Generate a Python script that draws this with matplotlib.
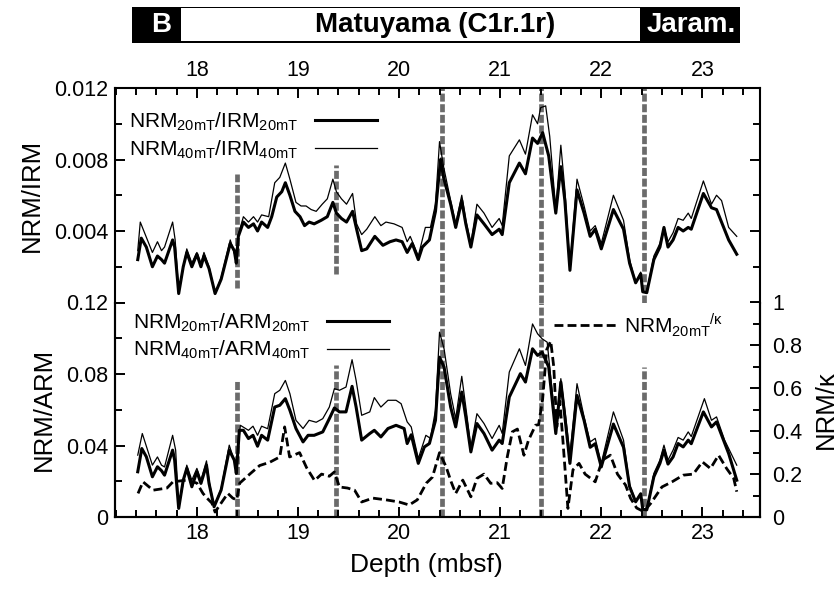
#!/usr/bin/env python3
"""
NRM/IRM, NRM/ARM and NRM/kappa records versus depth (panel B).
"""

import matplotlib
matplotlib.use("Agg")
import matplotlib.pyplot as plt
from matplotlib.patches import Rectangle
from matplotlib.ticker import MultipleLocator, FuncFormatter

plt.rcParams['font.family'] = ['Liberation Sans', 'DejaVu Sans']
plt.rcParams['mathtext.fontset'] = 'custom'
plt.rcParams['mathtext.rm'] = 'Liberation Sans'

# ---- data (depth in mbsf) ----
irm20_depth = [17.415, 17.45, 17.50, 17.56, 17.61, 17.65, 17.68, 17.76, 17.78, 17.82,
               17.865, 17.90, 17.95, 18.00, 18.04, 18.07, 18.12, 18.18, 18.24, 18.33,
               18.37, 18.39, 18.41, 18.46, 18.51, 18.56, 18.60, 18.64, 18.70, 18.74,
               18.79, 18.84, 18.875, 18.92, 18.97, 19.02, 19.065, 19.11, 19.16, 19.23,
               19.29, 19.345, 19.38, 19.43, 19.48, 19.54, 19.58, 19.63, 19.68, 19.76,
               19.84, 19.91, 19.97, 20.03, 20.08, 20.13, 20.19, 20.23, 20.30, 20.36,
               20.41, 20.44, 20.51, 20.56, 20.62, 20.66, 20.71, 20.77, 20.84, 20.92,
               20.99, 21.02, 21.09, 21.19, 21.25, 21.32, 21.37, 21.42, 21.48, 21.55,
               21.60, 21.64, 21.69, 21.76, 21.83, 21.89, 21.94, 22.00, 22.12, 22.22,
               22.28, 22.34, 22.39, 22.41, 22.45, 22.52, 22.58, 22.62, 22.66, 22.71,
               22.76, 22.81, 22.86, 22.89, 23.01, 23.09, 23.14, 23.26, 23.34]
irm20_ratio = [0.0024, 0.0036, 0.0031, 0.0020, 0.0026, 0.0024, 0.0022, 0.0035, 0.0031, 0.0005,
               0.0020, 0.0028, 0.0020, 0.0027, 0.0020, 0.0026, 0.0019, 0.0005, 0.0013, 0.0033,
               0.0029, 0.0022, 0.0037, 0.0045, 0.0042, 0.0044, 0.0040, 0.0045, 0.0042, 0.0048,
               0.0059, 0.0062, 0.0067, 0.0060, 0.0051, 0.0048, 0.0043, 0.0045, 0.0044, 0.0046,
               0.0048, 0.0056, 0.0050, 0.0047, 0.0045, 0.0051, 0.0041, 0.0029, 0.0030, 0.0037,
               0.0032, 0.0034, 0.0035, 0.0034, 0.0028, 0.0033, 0.0024, 0.0031, 0.0035, 0.0051,
               0.0080, 0.0070, 0.0055, 0.0042, 0.0057, 0.0044, 0.0031, 0.0049, 0.0044, 0.0038,
               0.0041, 0.0038, 0.0067, 0.0078, 0.0072, 0.0092, 0.0089, 0.0095, 0.0082, 0.0050,
               0.0076, 0.0057, 0.0018, 0.0063, 0.0050, 0.0037, 0.0041, 0.0030, 0.0052, 0.0041,
               0.0022, 0.0011, 0.0016, 0.0006, 0.00055, 0.0024, 0.0031, 0.0042, 0.0031, 0.0035,
               0.0042, 0.0040, 0.0042, 0.0041, 0.0061, 0.0053, 0.0052, 0.0035, 0.0027]

irm40_depth = [17.415, 17.44, 17.56, 17.61, 17.65, 17.68, 17.76, 17.785, 17.82, 17.90,
               17.95, 18.00, 18.04, 18.07, 18.12, 18.18, 18.24, 18.33, 18.39, 18.41,
               18.46, 18.51, 18.56, 18.60, 18.64, 18.71, 18.77, 18.82, 18.875, 18.92,
               18.98, 19.03, 19.08, 19.13, 19.18, 19.24, 19.29, 19.345, 19.38, 19.43,
               19.48, 19.54, 19.58, 19.63, 19.68, 19.76, 19.82, 19.87, 19.95, 20.03,
               20.08, 20.11, 20.19, 20.26, 20.31, 20.36, 20.40, 20.44, 20.51, 20.56,
               20.62, 20.66, 20.71, 20.77, 20.84, 20.92, 20.99, 21.02, 21.09, 21.19,
               21.25, 21.32, 21.37, 21.40, 21.45, 21.49, 21.55, 21.60, 21.64, 21.69,
               21.76, 21.83, 21.89, 21.94, 22.00, 22.12, 22.22, 22.28, 22.34, 22.39,
               22.41, 22.45, 22.52, 22.58, 22.62, 22.66, 22.71, 22.76, 22.81, 22.86,
               22.89, 23.01, 23.09, 23.14, 23.19, 23.26, 23.34]
irm40_ratio = [0.0029, 0.0045, 0.0028, 0.0034, 0.0029, 0.0031, 0.0045, 0.0035, 0.0006, 0.0030,
               0.0022, 0.0028, 0.0022, 0.0028, 0.0020, 0.0005, 0.0014, 0.0035, 0.0024, 0.0038,
               0.0048, 0.0045, 0.0048, 0.0045, 0.0049, 0.0048, 0.0067, 0.0070, 0.0078, 0.0069,
               0.0056, 0.0054, 0.0054, 0.0052, 0.0051, 0.0055, 0.0058, 0.0069, 0.0062, 0.0058,
               0.0055, 0.0061, 0.0044, 0.0038, 0.0041, 0.0048, 0.0043, 0.0045, 0.0044, 0.0042,
               0.0034, 0.0037, 0.0026, 0.0042, 0.0042, 0.0055, 0.0090, 0.0076, 0.0057, 0.0044,
               0.0060, 0.0046, 0.0033, 0.0055, 0.0050, 0.0042, 0.0047, 0.0043, 0.0082, 0.0091,
               0.0083, 0.0105, 0.0100, 0.0109, 0.0110, 0.0093, 0.0052, 0.0088, 0.0063, 0.0020,
               0.0069, 0.0054, 0.0040, 0.0043, 0.0033, 0.0060, 0.0046, 0.0024, 0.0011, 0.0017,
               0.0006, 0.0006, 0.0026, 0.0033, 0.0042, 0.0034, 0.0039, 0.0047, 0.0046, 0.0050,
               0.0047, 0.0068, 0.0055, 0.0060, 0.0057, 0.0042, 0.0037]

arm20_depth = [17.415, 17.455, 17.50, 17.56, 17.61, 17.65, 17.68, 17.76, 17.78, 17.82,
               17.865, 17.90, 17.95, 18.00, 18.04, 18.095, 18.12, 18.17, 18.24, 18.32,
               18.37, 18.39, 18.42, 18.46, 18.51, 18.555, 18.60, 18.64, 18.70, 18.77,
               18.82, 18.875, 18.92, 18.98, 19.05, 19.10, 19.16, 19.245, 19.31, 19.36,
               19.41, 19.475, 19.535, 19.575, 19.63, 19.71, 19.755, 19.82, 19.89, 19.97,
               20.05, 20.08, 20.12, 20.19, 20.25, 20.30, 20.36, 20.40, 20.445, 20.51,
               20.56, 20.62, 20.66, 20.71, 20.77, 20.84, 20.92, 20.99, 21.02, 21.09,
               21.20, 21.25, 21.32, 21.37, 21.415, 21.48, 21.55, 21.60, 21.64, 21.69,
               21.76, 21.83, 21.89, 21.94, 22.00, 22.12, 22.22, 22.28, 22.34, 22.39,
               22.41, 22.45, 22.52, 22.58, 22.62, 22.66, 22.71, 22.76, 22.81, 22.86,
               22.89, 23.01, 23.09, 23.14, 23.26, 23.34]
arm20_ratio = [0.0253, 0.0383, 0.0337, 0.0225, 0.0281, 0.0259, 0.0234, 0.0374, 0.0318, 0.0048,
               0.0206, 0.0272, 0.0169, 0.0253, 0.0188, 0.0290, 0.0188, 0.0057, 0.0151, 0.0374,
               0.0318, 0.0244, 0.0485, 0.0485, 0.0439, 0.0457, 0.0396, 0.0457, 0.0430, 0.0615,
               0.0625, 0.0662, 0.0597, 0.0495, 0.0420, 0.0457, 0.0457, 0.0476, 0.0550, 0.0610,
               0.0588, 0.0588, 0.0731, 0.0615, 0.0430, 0.0467, 0.0485, 0.0448, 0.0495, 0.0513,
               0.0495, 0.0411, 0.0460, 0.0300, 0.0392, 0.0411, 0.0541, 0.0894, 0.0839, 0.0615,
               0.0504, 0.0699, 0.0560, 0.0364, 0.0523, 0.0467, 0.0374, 0.0430, 0.0411, 0.0671,
               0.0802, 0.0755, 0.0941, 0.0904, 0.0922, 0.0839, 0.0467, 0.0755, 0.0560, 0.0300,
               0.0680, 0.0540, 0.0390, 0.0410, 0.0280, 0.0520, 0.0390, 0.0170, 0.0085, 0.0130,
               0.0043, 0.0040, 0.0225, 0.0300, 0.0374, 0.0296, 0.0336, 0.0411, 0.0392, 0.0430,
               0.0410, 0.0588, 0.0504, 0.0532, 0.0355, 0.0206]

arm40_depth = [17.415, 17.46, 17.56, 17.61, 17.65, 17.68, 17.76, 17.79, 17.82, 17.90,
               17.95, 18.00, 18.04, 18.095, 18.12, 18.17, 18.24, 18.32, 18.39, 18.43,
               18.51, 18.555, 18.60, 18.64, 18.70, 18.77, 18.82, 18.875, 18.92, 18.98,
               19.05, 19.11, 19.18, 19.245, 19.31, 19.36, 19.41, 19.475, 19.535, 19.575,
               19.63, 19.71, 19.755, 19.82, 19.89, 19.97, 20.02, 20.08, 20.12, 20.19,
               20.265, 20.31, 20.36, 20.40, 20.445, 20.51, 20.56, 20.62, 20.66, 20.71,
               20.77, 20.84, 20.92, 20.99, 21.02, 21.09, 21.19, 21.25, 21.32, 21.37,
               21.415, 21.465, 21.55, 21.60, 21.64, 21.69, 21.76, 21.83, 21.89, 21.94,
               22.00, 22.12, 22.22, 22.28, 22.34, 22.39, 22.41, 22.45, 22.52, 22.58,
               22.62, 22.66, 22.71, 22.76, 22.81, 22.86, 22.89, 23.02, 23.09, 23.14,
               23.22, 23.34]
arm40_ratio = [0.0346, 0.0467, 0.0290, 0.0336, 0.0290, 0.0280, 0.0457, 0.0374, 0.0057, 0.0290,
               0.0206, 0.0272, 0.0206, 0.0314, 0.0206, 0.0057, 0.0160, 0.0402, 0.0280, 0.0513,
               0.0485, 0.0508, 0.0457, 0.0508, 0.0494, 0.0690, 0.0709, 0.0764, 0.0690, 0.0541,
               0.0495, 0.0541, 0.0530, 0.0550, 0.0615, 0.0718, 0.0709, 0.0727, 0.0880, 0.0764,
               0.0569, 0.0588, 0.0668, 0.0615, 0.0653, 0.0653, 0.0634, 0.0532, 0.0504, 0.0327,
               0.0457, 0.0440, 0.0597, 0.1034, 0.0941, 0.0690, 0.0550, 0.0787, 0.0615, 0.0392,
               0.0578, 0.0523, 0.0439, 0.0513, 0.0467, 0.0811, 0.0941, 0.0848, 0.1080, 0.1025,
               0.0997, 0.0978, 0.0504, 0.0774, 0.0597, 0.0350, 0.0746, 0.0560, 0.0420, 0.0440,
               0.0300, 0.0588, 0.0430, 0.0180, 0.0090, 0.0130, 0.0045, 0.0045, 0.0244, 0.0318,
               0.0402, 0.0318, 0.0374, 0.0445, 0.0430, 0.0476, 0.0450, 0.0662, 0.0541, 0.0560,
               0.0430, 0.0290]

kappa_depth = [17.418, 17.467, 17.566, 17.704, 17.763, 17.90, 18.00, 18.06, 18.10, 18.148,
               18.18, 18.247, 18.306, 18.355, 18.394, 18.424, 18.523, 18.621, 18.72, 18.82,
               18.868, 18.917, 19.016, 19.085, 19.164, 19.233, 19.31, 19.36, 19.41, 19.49,
               19.56, 19.63, 19.74, 19.87, 20.00, 20.10, 20.18, 20.27, 20.33, 20.40,
               20.465, 20.515, 20.56, 20.63, 20.71, 20.77, 20.84, 20.906, 20.97, 21.02,
               21.07, 21.12, 21.17, 21.235, 21.28, 21.35, 21.38, 21.42, 21.46, 21.50,
               21.53, 21.56, 21.59, 21.62, 21.67, 21.72, 21.78, 21.84, 21.94, 22.01,
               22.09, 22.16, 22.24, 22.29, 22.35, 22.42, 22.49, 22.60, 22.70, 22.81,
               22.91, 23.00, 23.08, 23.16, 23.24, 23.31, 23.34]
kappa_ratio = [0.110, 0.164, 0.125, 0.135, 0.164, 0.172, 0.158, 0.110, 0.088, 0.065,
               0.023, 0.070, 0.110, 0.088, 0.080, 0.158, 0.200, 0.240, 0.255, 0.280,
               0.420, 0.280, 0.300, 0.230, 0.170, 0.200, 0.190, 0.210, 0.140, 0.135,
               0.125, 0.070, 0.088, 0.080, 0.070, 0.056, 0.080, 0.158, 0.186, 0.300,
               0.234, 0.164, 0.110, 0.172, 0.094, 0.180, 0.200, 0.157, 0.160, 0.133,
               0.280, 0.397, 0.410, 0.288, 0.358, 0.428, 0.430, 0.550, 0.780, 0.820,
               0.700, 0.420, 0.540, 0.360, 0.040, 0.220, 0.250, 0.200, 0.164, 0.265,
               0.288, 0.200, 0.149, 0.087, 0.042, 0.025, 0.064, 0.140, 0.164, 0.195,
               0.200, 0.257, 0.226, 0.288, 0.226, 0.180, 0.118]

# boundaries (depth) and the extent of the dashed markers in each panel
boundary_depth = [18.40, 19.38, 20.42, 21.40, 22.42]
boundary_top = [(0.0008, 0.0072), (0.0016, 0.0077), (0.0, 0.012), (0.0, 0.012), (0.0, 0.012)]
boundary_bottom = [(0.0, 0.0765), (0.0, 0.0848), (0.0, 0.12), (0.0, 0.12), (0.0, 0.0837)]

# polarity bar: edges in depth
bar_edges = [17.36, 17.84, 22.38, 23.37]
bar_labels = ['B', 'Matuyama (C1r.1r)', 'Jaram.']
bar_label_pos = [17.65, 20.36, 22.89]

xmin, xmax = 17.19, 23.57


def setup_figure():
    fig = plt.figure(figsize=(8.38, 6.0), dpi=100)
    left, width = 115 / 838, 645 / 838
    ax_top = fig.add_axes([left, 1 - 302.5 / 600, width, 214.5 / 600])
    ax_bot = fig.add_axes([left, 1 - 517 / 600, width, 214.5 / 600])
    ax_r = ax_bot.twinx()
    ax_bar = fig.add_axes([left, 1 - 43 / 600, width, 36 / 600])
    return fig, ax_top, ax_bot, ax_r, ax_bar


def style_axes(ax_top, ax_bot, ax_r):
    tick_kw = dict(direction='in', width=1.4, labelsize=15.5)
    fmt = FuncFormatter(lambda v, p: '' if abs(v) < 1e-12 else f'{v:g}')

    for ax in (ax_top, ax_bot):
        ax.set_xlim(xmin, xmax)
        ax.xaxis.set_major_locator(MultipleLocator(1))
        ax.xaxis.set_minor_locator(MultipleLocator(0.2))
        for s in ax.spines.values():
            s.set_linewidth(1.5)

    ax_top.set_ylim(0, 0.012)
    ax_top.yaxis.set_major_locator(MultipleLocator(0.004))
    ax_top.yaxis.set_minor_locator(MultipleLocator(0.002))
    ax_top.yaxis.set_major_formatter(fmt)
    ax_top.spines['bottom'].set_visible(False)
    ax_top.tick_params(axis='x', which='both', top=True, bottom=False,
                       labeltop=True, labelbottom=False, pad=5, **tick_kw)
    ax_top.tick_params(axis='y', which='both', left=True, right=True, pad=5, **tick_kw)
    ax_top.tick_params(which='major', length=7)
    ax_top.tick_params(which='minor', length=5)
    ax_top.set_ylabel('NRM/IRM', fontsize=18.5, labelpad=7)

    ax_bot.set_ylim(0, 0.12)
    ax_bot.yaxis.set_major_locator(MultipleLocator(0.04))
    ax_bot.yaxis.set_minor_locator(MultipleLocator(0.02))
    ax_bot.yaxis.set_major_formatter(FuncFormatter(lambda v, p: f'{v:g}'))
    ax_bot.spines['top'].set_visible(False)
    ax_bot.tick_params(axis='x', which='both', top=False, bottom=True, pad=4, **tick_kw)
    ax_bot.tick_params(axis='y', which='both', left=True, right=False, pad=5, **tick_kw)
    ax_bot.tick_params(which='major', length=7)
    ax_bot.tick_params(which='minor', length=5)
    ax_bot.set_ylabel('NRM/ARM', fontsize=18.5, labelpad=7)
    ax_bot.set_xlabel('Depth (mbsf)', fontsize=19, labelpad=7)
    ax_bot.xaxis.label.set_x(0.483)

    ax_r.set_ylim(0, 1.0)
    ax_r.yaxis.set_major_locator(MultipleLocator(0.2))
    ax_r.yaxis.set_minor_locator(MultipleLocator(0.1))
    ax_r.yaxis.set_major_formatter(FuncFormatter(lambda v, p: f'{v:g}'))
    ax_r.spines['top'].set_visible(False)
    for s in ax_r.spines.values():
        s.set_linewidth(1.5)
    ax_r.tick_params(axis='y', which='both', pad=9, **tick_kw)
    ax_r.tick_params(which='major', length=7)
    ax_r.tick_params(which='minor', length=5)
    ax_r.set_ylabel('NRM/κ', fontsize=18.5, labelpad=8)


def draw_bar(ax_bar):
    ax_bar.set_xlim(xmin, xmax)
    ax_bar.set_ylim(0, 1)
    ax_bar.axis('off')
    ax_bar.add_patch(Rectangle((bar_edges[0], 0), bar_edges[3] - bar_edges[0], 1,
                               facecolor='black', edgecolor='none'))
    ax_bar.add_patch(Rectangle((bar_edges[1], 0.06), bar_edges[2] - bar_edges[1], 0.9,
                               facecolor='white', edgecolor='none'))
    colors = ['white', 'black', 'white']
    for lab, xpos, c in zip(bar_labels, bar_label_pos, colors):
        ax_bar.text(xpos, 0.5, lab, color=c, fontsize=20, fontweight='bold',
                    ha='center', va='center')


def plot_ratios():
    fig, ax_top, ax_bot, ax_r, ax_bar = setup_figure()
    style_axes(ax_top, ax_bot, ax_r)
    draw_bar(ax_bar)

    dash_kw = dict(color='0.42', linewidth=3.4, dashes=(1.7, 0.55), zorder=1)
    for d, (y0, y1) in zip(boundary_depth, boundary_top):
        ax_top.plot([d, d], [y0, y1], **dash_kw)
    for d, (y0, y1) in zip(boundary_depth, boundary_bottom):
        ax_bot.plot([d, d], [y0, y1], **dash_kw)

    leg_kw = dict(loc='upper left', markerfirst=False, frameon=False, fontsize=15,
                  handlelength=3.0, handletextpad=0.8, labelspacing=0.25,
                  borderpad=0, borderaxespad=0)

    l1, = ax_top.plot(irm20_depth, irm20_ratio, color='black', lw=2.2, zorder=3)
    l2, = ax_top.plot(irm40_depth, irm40_ratio, color='black', lw=0.9, zorder=3)
    ax_top.legend([l1, l2],
                  [r'NRM$_{\mathregular{20mT}}$/IRM$_{\mathregular{20mT}}$',
                   r'NRM$_{\mathregular{40mT}}$/IRM$_{\mathregular{40mT}}$'],
                  bbox_to_anchor=(0.022, 0.897), **leg_kw)

    b1, = ax_bot.plot(arm20_depth, arm20_ratio, color='black', lw=2.2, zorder=3)
    b2, = ax_bot.plot(arm40_depth, arm40_ratio, color='black', lw=0.9, zorder=3)
    ax_bot.legend([b1, b2],
                  [r'NRM$_{\mathregular{20mT}}$/ARM$_{\mathregular{20mT}}$',
                   r'NRM$_{\mathregular{40mT}}$/ARM$_{\mathregular{40mT}}$'],
                  bbox_to_anchor=(0.028, 0.96), **leg_kw)

    k1, = ax_r.plot(kappa_depth, kappa_ratio, color='black', lw=2.0,
                    dashes=(3.2, 1.5), zorder=3)
    ax_r.legend([k1], [r'NRM$_{\mathregular{20mT}}$$^{\mathregular{/κ}}$'],
                loc='upper left', bbox_to_anchor=(0.68, 0.96), frameon=False,
                fontsize=15, handlelength=3.1, handletextpad=0.3,
                borderpad=0, borderaxespad=0)

    fig.savefig('out.png', dpi=100)
    plt.close(fig)


if __name__ == "__main__":
    plot_ratios()
